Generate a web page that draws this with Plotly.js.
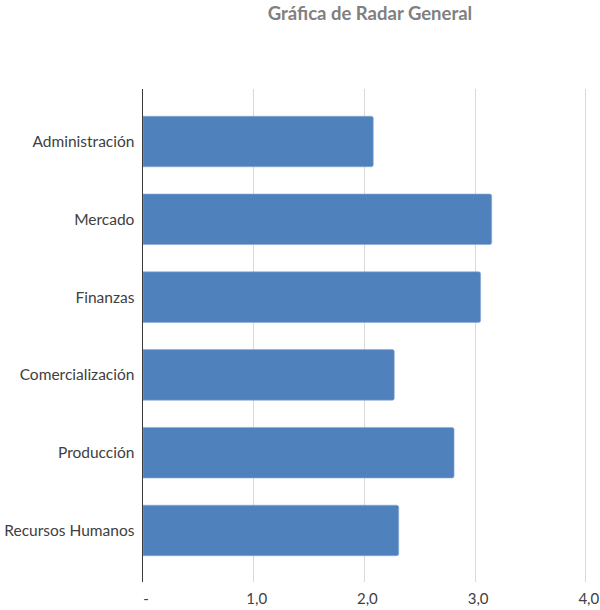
<!DOCTYPE html>
<html>
<head>
<meta charset="utf-8">
<script src="https://cdn.plot.ly/plotly-3.0.1.min.js"></script>
<style>
  html, body { margin: 0; padding: 0; background: #ffffff; }
  #chart { width: 600px; height: 610px; }
</style>
</head>
<body>
<div id="chart"></div>
<script>
// Áreas evaluadas (de arriba hacia abajo) y su puntuación media
const areas = ["Administración", "Mercado", "Finanzas", "Comercialización", "Producción", "Recursos Humanos"];
const puntuaciones = [2.08, 3.15, 3.05, 2.27, 2.81, 2.31];

// Marcas del eje de valores
const valoresEje = [0, 1, 2, 3, 4];
const etiquetasEje = ["-", "1,0", "2,0", "3,0", "4,0"];

const fuente = "Lato, 'Open Sans', sans-serif";

const trace = {
  type: "bar",
  orientation: "h",
  y: areas,
  x: puntuaciones,
  marker: {
    color: "#4f81bd",
    line: { color: "#8aa9d3", width: 0.6 },
    cornerradius: 2
  },
  hoverinfo: "x+y"
};

const layout = {
  width: 600,
  height: 610,
  // un pequeño margen extra a la derecha para que se vea la línea de 4,0
  margin: { l: 143, r: 12, t: 89, b: 28 },
  paper_bgcolor: "#ffffff",
  plot_bgcolor: "#ffffff",
  bargap: 0.35,
  showlegend: false,
  font: { family: fuente, size: 15.5, color: "#404040" },
  title: {
    text: "<b>Gráfica de Radar General</b>",
    font: { family: fuente, size: 18.5, color: "#808080" },
    xref: "container",
    yref: "container",
    x: 370 / 600,
    xanchor: "center",
    y: 1 - 14 / 610,
    yanchor: "middle"
  },
  xaxis: {
    range: [0, 4.02],
    tickmode: "array",
    tickvals: valoresEje,
    ticktext: etiquetasEje,
    showgrid: true,
    gridcolor: "#d9d9d9",
    gridwidth: 1,
    zeroline: false,
    showline: false,
    ticks: "",
    ticklabelstandoff: 6,
    ticklabelshift: 3,
    tickfont: { family: fuente, size: 15, color: "#404040" },
    fixedrange: true
  },
  yaxis: {
    type: "category",
    categoryorder: "array",
    categoryarray: areas,
    range: [5.662, -0.675],
    showgrid: false,
    zeroline: false,
    showline: true,
    linecolor: "#3a3a3a",
    linewidth: 1.5,
    ticks: "",
    ticklabelstandoff: 4,
    tickfont: { family: fuente, size: 15.5, color: "#404040" },
    fixedrange: true
  }
};

Plotly.newPlot("chart", [trace], layout, { displayModeBar: false, staticPlot: true });
</script>
</body>
</html>
